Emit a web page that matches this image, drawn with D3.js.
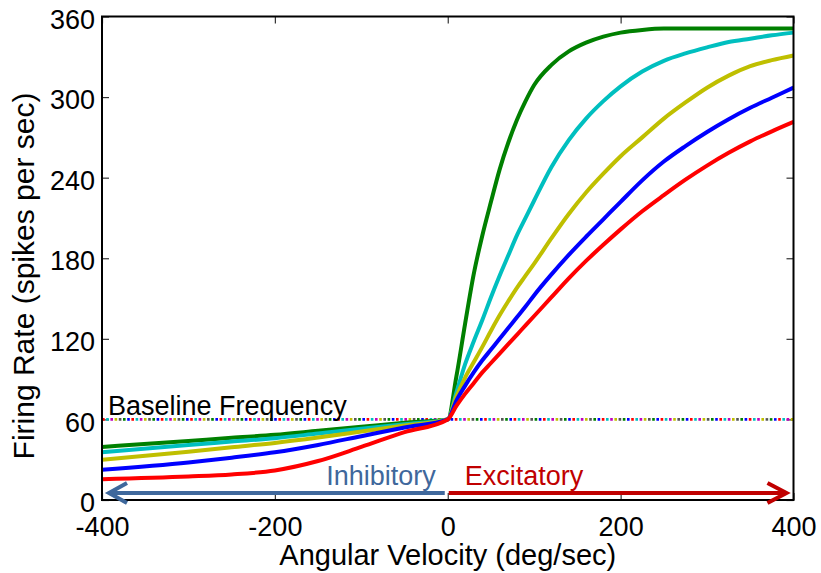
<!DOCTYPE html>
<html lang="en">
<head>
  <meta charset="UTF-8">
  <title>Firing rate vs angular velocity</title>
  <style>
    body {
      margin: 0;
      background: #fff;
    }
    svg {
      display: block;
      font-family: "Liberation Sans", Arial, sans-serif;
    }
    .tick line {
      stroke: #333;
      stroke-width: 1.2px;
    }
    .tick text {
      font-size: 27px;
      fill: #000;
    }
    .curve {
      fill: none;
      stroke-width: 4px;
      stroke-linejoin: round;
    }
  </style>
</head>
<body>
  <svg id="chart"></svg>

  <script src="https://d3js.org/d3.v7.min.js"></script>
  <script>
    // --- data ---
    const velocity = [-400, -300, -250, -200, -150, -100, -50, 0, 10, 20, 30, 40, 50, 60, 70, 80, 90, 100,
                      120, 140, 160, 180, 200, 225, 250, 275, 300, 325, 350, 375, 400];

    const rateGreen  = [39.5, 44, 46.3, 48.5, 51.5, 54.5, 57.5, 60, 92, 131, 168, 197, 222, 246, 266, 283, 297, 309,
                        324, 334, 340.5, 345, 348, 350, 351, 351, 351, 351, 351, 351, 351];
    const rateCyan   = [35.5, 41, 43.5, 46, 49.5, 53, 56.5, 60, 80, 101, 118, 134, 151, 167, 182, 197, 210, 223,
                        248, 268, 284, 297, 308, 319, 327, 332.5, 337, 341, 343.5, 346, 348];
    const rateYellow = [30, 36, 39.3, 42.5, 46.5, 51, 55.5, 60, 77, 91, 102.5, 114, 126, 137.5, 148, 158, 167, 176,
                        195, 213, 229, 243, 256, 270, 284, 296, 307, 316, 323, 327.5, 331];
    const rateBlue   = [22.5, 28, 31.5, 35.5, 41, 47.5, 54, 60, 74, 85, 95, 104, 112, 120, 128, 136, 144, 152.5,
                        168, 182.5, 196, 209, 222, 238, 252, 263.5, 274, 283.5, 292, 299.5, 307];
    const rateRed    = [15.5, 17.5, 19, 22, 29, 39.5, 50.5, 60, 70, 79, 87, 95, 102, 109, 116, 123, 130, 137,
                        151, 165, 178, 190, 201.5, 215, 227, 238.5, 249, 258.5, 267, 274.5, 281.5];

    const seriesRates  = [rateGreen, rateCyan, rateYellow, rateBlue, rateRed];
    const seriesColors = ["#008000", "#00bfbf", "#bfbf00", "#0000ff", "#ff0000"];

    const xTicks = [-400, -200, 0, 200, 400];
    const yTicks = [0, 60, 120, 180, 240, 300, 360];

    const baselineRate = 60;
    const baselineColors = ["#ff0000", "#00bfbf", "#bf00bf", "#bfbf00", "#555555", "#008000", "#0000ff"];

    // --- layout ---
    const width = 821, height = 573;
    const margin = { top: 16.5, right: 27.5, bottom: 73, left: 102 };

    const svg = d3.select("#chart")
      .attr("width", width)
      .attr("height", height);

    const x = d3.scaleLinear()
      .domain([-400, 400])
      .range([margin.left, width - margin.right]);
    const y = d3.scaleLinear()
      .domain([0, 360])
      .range([height - margin.bottom, margin.top]);

    const fmt = d => d.toString();

    // axes, ticks pointing inward on all four sides
    svg.append("g")
      .attr("transform", `translate(0,${y(0)})`)
      .call(d3.axisBottom(x).tickValues(xTicks).tickFormat(fmt).tickSize(-7).tickPadding(17))
      .call(g => g.select(".domain").remove());
    svg.append("g")
      .attr("transform", `translate(0,${y(360)})`)
      .call(d3.axisTop(x).tickValues(xTicks).tickFormat("").tickSize(-7))
      .call(g => g.select(".domain").remove());
    svg.append("g")
      .attr("transform", `translate(${x(-400)},0)`)
      .call(d3.axisLeft(y).tickValues(yTicks).tickFormat(fmt).tickSize(-7).tickPadding(7))
      .call(g => g.select(".domain").remove())
      .call(g => g.selectAll("text").attr("dy", "0.43em"));
    svg.append("g")
      .attr("transform", `translate(${x(400)},0)`)
      .call(d3.axisRight(y).tickValues(yTicks).tickFormat("").tickSize(-7))
      .call(g => g.select(".domain").remove());

    // baseline: multi-coloured dotted line
    const dotStep = 4.2;
    const dotPeriod = dotStep * baselineColors.length;
    baselineColors.forEach((c, i) => {
      svg.append("line")
        .attr("x1", x(-400)).attr("x2", x(400))
        .attr("y1", y(baselineRate)).attr("y2", y(baselineRate))
        .attr("stroke", c)
        .attr("stroke-width", 2.6)
        .attr("stroke-dasharray", `2.6 ${dotPeriod - 2.6}`)
        .attr("stroke-dashoffset", -i * dotStep);
    });

    // curves
    const line = d3.line()
      .x((d, i) => x(velocity[i]))
      .y(d => y(d))
      .curve(d3.curveMonotoneX);

    seriesRates.forEach((rates, i) => {
      svg.append("path")
        .datum(rates)
        .attr("class", "curve")
        .attr("stroke", seriesColors[i])
        .attr("d", line);
    });

    // plot box
    svg.append("rect")
      .attr("x", x(-400)).attr("y", y(360))
      .attr("width", x(400) - x(-400))
      .attr("height", y(0) - y(360))
      .attr("fill", "none")
      .attr("stroke", "#000")
      .attr("stroke-width", 2);

    // annotations
    svg.append("text")
      .attr("x", x(-400) + 6)
      .attr("y", y(baselineRate) - 4)
      .attr("font-size", 27)
      .text("Baseline Frequency");

    const arrowY = y(0) - 7;
    const blue = "#3f689c", red = "#c00000";

    svg.append("path")
      .attr("d", `M${x(0) - 3},${arrowY}H${x(-400) + 7}M${x(-400) + 25},${arrowY - 10}L${x(-400) + 7},${arrowY}L${x(-400) + 25},${arrowY + 10}`)
      .attr("fill", "none")
      .attr("stroke", blue)
      .attr("stroke-width", 4);
    svg.append("path")
      .attr("d", `M${x(0) + 1},${arrowY}H${x(400) - 7}M${x(400) - 26},${arrowY - 10}L${x(400) - 7},${arrowY}L${x(400) - 26},${arrowY + 10}`)
      .attr("fill", "none")
      .attr("stroke", red)
      .attr("stroke-width", 4);

    svg.append("text")
      .attr("x", x(0) - 12)
      .attr("y", arrowY - 8)
      .attr("text-anchor", "end")
      .attr("font-size", 27)
      .attr("fill", blue)
      .text("Inhibitory");
    svg.append("text")
      .attr("x", x(0) + 17)
      .attr("y", arrowY - 8)
      .attr("font-size", 27)
      .attr("fill", red)
      .text("Excitatory");

    // axis titles
    svg.append("text")
      .attr("x", (x(-400) + x(400)) / 2)
      .attr("y", 565)
      .attr("text-anchor", "middle")
      .attr("font-size", 29)
      .text("Angular Velocity (deg/sec)");
    svg.append("text")
      .attr("transform", `translate(34,276) rotate(-90)`)
      .attr("text-anchor", "middle")
      .attr("font-size", 30)
      .text("Firing Rate (spikes per sec)");
  </script>
</body>
</html>
